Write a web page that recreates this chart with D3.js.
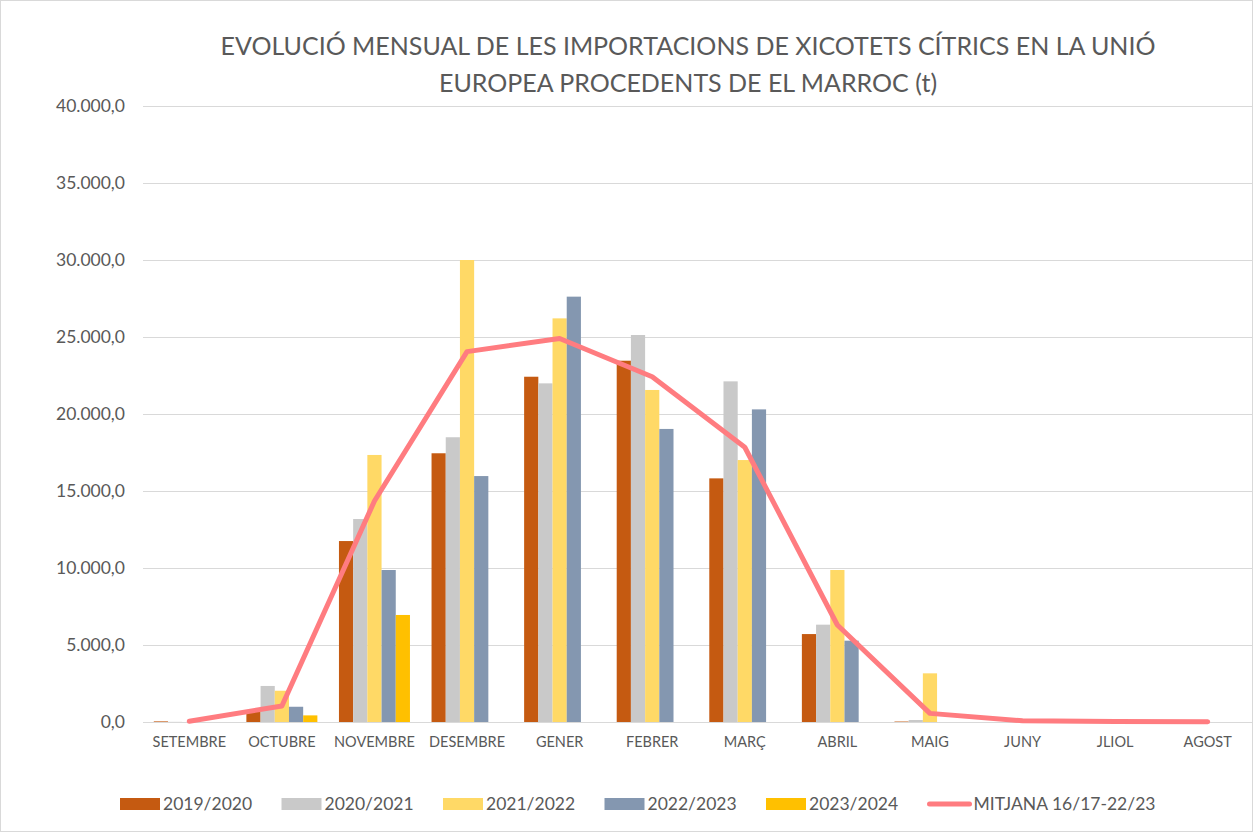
<!DOCTYPE html>
<html>
<head>
<meta charset="utf-8">
<script src="https://cdn.jsdelivr.net/npm/d3@7"></script>
<style>
  body { margin: 0; background: #fff; }
  svg text { font-family: Lato, "Open Sans", sans-serif; fill: #595959; }
</style>
</head>
<body>
<div id="container"></div>
<script>
/* CONSTANTS AND GLOBALS */
const width = 1253;
const height = 832;
const margin = { top: 106, bottom: 110, left: 143, right: -1 };

/* DATA */
const months = ["SETEMBRE", "OCTUBRE", "NOVEMBRE", "DESEMBRE", "GENER", "FEBRER",
  "MARÇ", "ABRIL", "MAIG", "JUNY", "JLIOL", "AGOST"];
const seasons = ["2019/2020", "2020/2021", "2021/2022", "2022/2023", "2023/2024"];
const colors = ["#C55A11", "#C9C9C9", "#FFD966", "#8497B0", "#FFC000"];

const s2019 = [40, 650, 11750, 17450, 22420, 23460, 15820, 5710, 30, 0, 0, 0];
const s2020 = [10, 2340, 13180, 18490, 21990, 25130, 22120, 6320, 130, 0, 0, 0];
const s2021 = [0, 2030, 17340, 30000, 26210, 21560, 17010, 9870, 3160, 0, 0, 0];
const s2022 = [0, 990, 9870, 15970, 27620, 19030, 20300, 5280, 0, 0, 0, 0];
const s2023 = [0, 430, 6950, null, null, null, null, null, null, null, null, null];
const mitjana = [50, 1040, 14350, 24050, 24900, 22420, 17840, 6300, 560, 80, 30, 20];
const lineName = "MITJANA 16/17-22/23";
const yTicks = [0, 5000, 10000, 15000, 20000, 25000, 30000, 35000, 40000];

const series = [s2019, s2020, s2021, s2022, s2023];

/* SCALES */
const xScale = d3.scaleBand()
  .domain(months)
  .range([margin.left, width - margin.right]);

const xSub = d3.scaleBand()
  .domain(seasons)
  .range([0, xScale.bandwidth()])
  .paddingOuter(0.76);

const yScale = d3.scaleLinear()
  .domain([0, 40000])
  .range([height - margin.bottom, margin.top]);

const colorScale = d3.scaleOrdinal().domain(seasons).range(colors);

const fmt = v => d3.format(",.1f")(v).replace(/,/g, "#").replace(".", ",").replace(/#/g, ".");

/* HTML ELEMENTS */
const svg = d3.select("#container")
  .append("svg")
  .attr("width", width)
  .attr("height", height);

// chart border
svg.append("rect")
  .attr("x", 0.5).attr("y", 0.5)
  .attr("width", width - 1).attr("height", height - 1)
  .attr("fill", "none")
  .attr("stroke", "#d9d9d9");

// title
svg.append("text")
  .attr("x", 688).attr("y", 55)
  .attr("text-anchor", "middle")
  .attr("font-size", 25)
  .text("EVOLUCIÓ MENSUAL DE LES IMPORTACIONS DE XICOTETS CÍTRICS EN LA UNIÓ");
svg.append("text")
  .attr("x", 688).attr("y", 92)
  .attr("text-anchor", "middle")
  .attr("font-size", 25)
  .text("EUROPEA PROCEDENTS DE EL MARROC (t)");

// gridlines + y labels
const yAxis = d3.axisLeft(yScale)
  .tickValues(yTicks)
  .tickSize(-(width - margin.right - margin.left))
  .tickPadding(18)
  .tickFormat(fmt);

const gy = svg.append("g")
  .attr("transform", `translate(${margin.left},0)`)
  .call(yAxis);
gy.select(".domain").remove();
gy.selectAll(".tick line").attr("stroke", "#d9d9d9").attr("stroke-width", 1);
gy.selectAll(".tick text").attr("font-size", 17.5).attr("fill", "#595959");

// x labels
const xAxis = d3.axisBottom(xScale).tickSize(0).tickPadding(15);
const gx = svg.append("g")
  .attr("transform", `translate(0,${height - margin.bottom})`)
  .call(xAxis);
gx.select(".domain").remove();
gx.selectAll(".tick text").attr("font-size", 14.5).attr("fill", "#595959");

// bars
const barData = [];
series.forEach((arr, si) => {
  arr.forEach((v, mi) => {
    if (v != null) barData.push({ season: seasons[si], month: months[mi], value: v });
  });
});

svg.append("g")
  .selectAll("rect")
  .data(barData)
  .join("rect")
  .attr("x", d => xScale(d.month) + xSub(d.season))
  .attr("y", d => yScale(d.value))
  .attr("width", xSub.bandwidth())
  .attr("height", d => yScale(0) - yScale(d.value))
  .attr("fill", d => colorScale(d.season));

// average line
const line = d3.line()
  .x((d, i) => xScale(months[i]) + xScale.bandwidth() / 2)
  .y(d => yScale(d));

svg.append("path")
  .datum(mitjana)
  .attr("d", line)
  .attr("fill", "none")
  .attr("stroke", "#FF7C80")
  .attr("stroke-width", 5)
  .attr("stroke-linejoin", "round")
  .attr("stroke-linecap", "round");

// legend
const legend = svg.append("g").attr("transform", "translate(120,798)");
const step = 161.5;
seasons.forEach((s, i) => {
  const g = legend.append("g").attr("transform", `translate(${i * step},0)`);
  g.append("rect").attr("width", 40).attr("height", 12).attr("fill", colorScale(s));
  g.append("text").attr("x", 43).attr("y", 12).attr("font-size", 17.5).text(s);
});
const lg = legend.append("g").attr("transform", `translate(${5 * step},0)`);
lg.append("line")
  .attr("x1", 2).attr("x2", 42).attr("y1", 6).attr("y2", 6)
  .attr("stroke", "#FF7C80").attr("stroke-width", 5).attr("stroke-linecap", "round");
lg.append("text").attr("x", 46).attr("y", 12).attr("font-size", 17.5).text(lineName);
</script>
</body>
</html>
